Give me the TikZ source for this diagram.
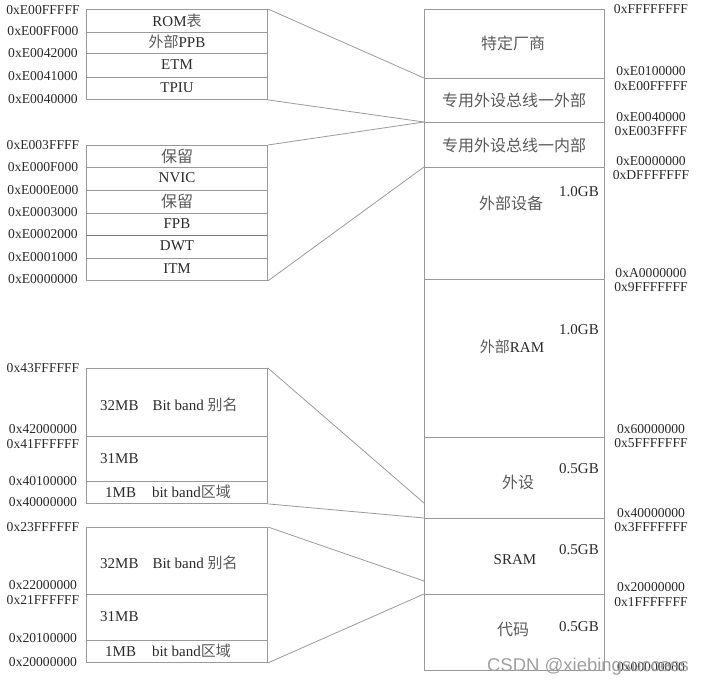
\documentclass[tikz,border=0pt]{standalone}
\usepackage{fontspec}
\setmainfont{Liberation Serif}
\newfontfamily\cjk{Noto Sans CJK SC}
\newfontfamily\wmfont{Liberation Sans}
\definecolor{linegray}{HTML}{9A9A9A}
\definecolor{txt}{HTML}{2A2A2A}
\definecolor{cjktxt}{HTML}{5A5A5A}
\definecolor{wmgray}{HTML}{A0A0A0}
\newcommand{\zh}[1]{{\cjk\color{cjktxt}#1}}
\begin{document}
\begin{tikzpicture}[x=1pt,y=-1pt,
  frame/.style={draw=linegray, line width=0.9pt, inner sep=0pt, anchor=north west, minimum width=181pt},
  sepline/.style={draw=linegray, line width=0.8pt},
  link/.style={draw=linegray, line width=0.8pt},
  addr/.style={text=txt, font=\fontsize{13.6}{13.6}\selectfont, inner sep=0pt},
  lbl/.style={text=txt, font=\fontsize{15}{15}\selectfont, inner sep=0pt},
  zlbl/.style={text=cjktxt, font=\cjk\fontsize{16}{16}\selectfont, inner sep=0pt},
  size/.style={text=txt, font=\fontsize{15}{15}\selectfont, inner sep=0pt}
]
\useasboundingbox (0,0) rectangle (706,687);

% ---------------- right column ----------------
\node[frame, minimum width=180pt, minimum height=661pt] (col) at (424,9) {};
\foreach \yy in {78,122,167,279,437,518,594}
  \draw[sepline] (424,\yy) -- (604,\yy);

\coordinate (c1) at (424,78);
\coordinate (c2) at (424,122);
\coordinate (c3) at (424,167);
\coordinate (c4) at (424,503);
\coordinate (c5) at (424,518);
\coordinate (c6) at (424,581);
\coordinate (c7) at (424,594);

\node[zlbl] (t1) at (513,43) {特定厂商};
\node[zlbl] (t2) at (514,100) {专用外设总线一外部};
\node[zlbl] (t3) at (514,145) {专用外设总线一内部};
\node[zlbl] (t4) at (511,203) {外部设备};
\node[size] (s4) at (579,192) {1.0GB};
\node[lbl] (t5) at (512,347) {\zh{外部}RAM};
\node[size] (s5) at (579,330) {1.0GB};
\node[zlbl] (t6) at (518,482) {外设};
\node[size] (s6) at (579,469) {0.5GB};
\node[lbl] (t7) at (515,560) {SRAM};
\node[size] (s7) at (579,550) {0.5GB};
\node[zlbl] (t8) at (513,630) {代码};
\node[size] (s8) at (579,627) {0.5GB};

% right addresses
\node[addr] (ra1) at (651,9) {0xFFFFFFFF};
\node[addr] (ra2) at (651,71) {0xE0100000};
\node[addr] (ra3) at (651,86) {0xE00FFFFF};
\node[addr] (ra4) at (651,117) {0xE0040000};
\node[addr] (ra5) at (651,131) {0xE003FFFF};
\node[addr] (ra6) at (651,161) {0xE0000000};
\node[addr] (ra7) at (651,175) {0xDFFFFFFF};
\node[addr] (ra8) at (651,273) {0xA0000000};
\node[addr] (ra9) at (651,287) {0x9FFFFFFF};
\node[addr] (ra10) at (651,429) {0x60000000};
\node[addr] (ra11) at (651,443) {0x5FFFFFFF};
\node[addr] (ra12) at (651,513) {0x40000000};
\node[addr] (ra13) at (651,527) {0x3FFFFFFF};
\node[addr] (ra14) at (651,587) {0x20000000};
\node[addr] (ra15) at (651,602) {0x1FFFFFFF};
\node[addr] (ra16) at (651,667) {0x00000000};

% ---------------- box 1 ----------------
\node[frame, minimum height=90pt] (b1) at (86,9) {};
\foreach \yy in {32,53,77}
  \draw[sepline] (86,\yy) -- (267,\yy);
\node[lbl] (r11) at (177,21) {ROM\zh{表}};
\node[lbl] (r12) at (177,42) {\zh{外部}PPB};
\node[lbl] (r13) at (177,65) {ETM};
\node[lbl] (r14) at (177,88) {TPIU};
\node[addr] (a11) at (43,10) {0xE00FFFFF};
\node[addr] (a12) at (43,31) {0xE00FF000};
\node[addr] (a13) at (43,53) {0xE0042000};
\node[addr] (a14) at (43,76) {0xE0041000};
\node[addr] (a15) at (43,99) {0xE0040000};

% ---------------- box 2 ----------------
\node[frame, minimum height=135pt] (b2) at (86,145) {};
\foreach \yy in {167,190,213,258}
  \draw[sepline] (86,\yy) -- (267,\yy);
\draw[sepline, draw=linegray!80!black] (86,235) -- (267,235);
\node[zlbl] (r21) at (177,156) {保留};
\node[lbl] (r22) at (177,178) {NVIC};
\node[zlbl] (r23) at (177,201) {保留};
\node[lbl] (r24) at (177,224) {FPB};
\node[lbl] (r25) at (177,246) {DWT};
\node[lbl] (r26) at (177,269) {ITM};
\node[addr] (a21) at (43,145) {0xE003FFFF};
\node[addr] (a22) at (43,167) {0xE000F000};
\node[addr] (a23) at (43,190) {0xE000E000};
\node[addr] (a24) at (43,212) {0xE0003000};
\node[addr] (a25) at (43,234) {0xE0002000};
\node[addr] (a26) at (43,257) {0xE0001000};
\node[addr] (a27) at (43,279) {0xE0000000};

% ---------------- box 3 ----------------
\node[frame, minimum height=135pt] (b3) at (86,368) {};
\foreach \yy in {436,481}
  \draw[sepline] (86,\yy) -- (267,\yy);
\node[lbl, anchor=west] (r31) at (100,405) {32MB\hspace{14pt}Bit band \zh{别名}};
\node[lbl, anchor=west] (r32) at (100,459) {31MB};
\node[lbl, anchor=west] (r33) at (105,492) {1MB\hspace{16pt}bit band\zh{区域}};
\node[addr] (a31) at (43,368) {0x43FFFFFF};
\node[addr] (a32) at (43,429.5) {0x42000000};
\node[addr] (a33) at (43,444) {0x41FFFFFF};
\node[addr] (a34) at (43,481) {0x40100000};
\node[addr] (a35) at (43,502) {0x40000000};

% ---------------- box 4 ----------------
\node[frame, minimum height=135pt] (b4) at (86,527) {};
\foreach \yy in {594,640}
  \draw[sepline] (86,\yy) -- (267,\yy);
\node[lbl, anchor=west] (r41) at (100,563) {32MB\hspace{14pt}Bit band \zh{别名}};
\node[lbl, anchor=west] (r42) at (100,617) {31MB};
\node[lbl, anchor=west] (r43) at (105,651) {1MB\hspace{16pt}bit band\zh{区域}};
\node[addr] (a41) at (43,527) {0x23FFFFFF};
\node[addr] (a42) at (43,585.5) {0x22000000};
\node[addr] (a43) at (43,600) {0x21FFFFFF};
\node[addr] (a44) at (43,638) {0x20100000};
\node[addr] (a45) at (43,662) {0x20000000};

% ---------------- connectors ----------------
\draw[link] (b1.north east) -- (c1);
\draw[link] (b1.south east) -- (c2);
\draw[link] (b2.north east) -- (c2);
\draw[link] (b2.south east) -- (c3);
\draw[link] (b3.north east) -- (c4);
\draw[link] (b3.south east) -- (c5);
\draw[link] (b4.north east) -- (c6);
\draw[link] (b4.south east) -- (c7);

% watermark (overlaps the bottom address, as in the reference)
\node[text=wmgray, font=\wmfont\fontsize{18.5}{18.5}\selectfont, inner sep=0pt] (wm) at (588,667) {CSDN @xiebingsuccess};
\end{tikzpicture}
\end{document}
